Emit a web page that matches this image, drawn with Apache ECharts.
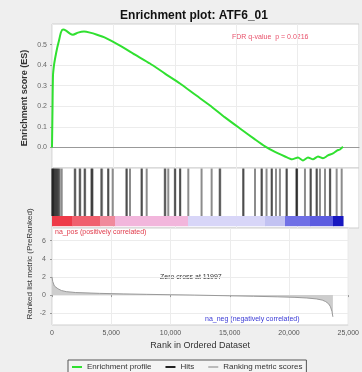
<!DOCTYPE html>
<html><head><meta charset="utf-8">
<script src="https://cdn.jsdelivr.net/npm/echarts@6/dist/echarts.min.js"></script>
<style>html,body{margin:0;padding:0;background:#fff}#c{width:362px;height:372px}</style>
</head><body><div id="c"></div>
<script>
// ---------- data ----------
const chartTitle = 'Enrichment plot: ATF6_01';
const statText = 'FDR q-value  p = 0.0216';
const zeroCrossRank = 11997;
const posLabel = 'na_pos (positively correlated)';
const negLabel = 'na_neg (negatively correlated)';
const xAxisTitle = 'Rank in Ordered Dataset';
const esAxisTitle = 'Enrichment score (ES)';
const metricAxisTitle = 'Ranked list metric (PreRanked)';
const legendNames = ['Enrichment profile', 'Hits', 'Ranking metric scores'];
const xTickValues = [0, 5000, 10000, 15000, 20000, 25000];
const esTickValues = [0, 0.1, 0.2, 0.3, 0.4, 0.5];
const metricTickValues = [-2, 0, 2, 4, 6];

const esRanks = [0, 40, 81, 163, 244, 407, 570, 733, 896, 1140, 1466, 1710, 2117, 2606, 3094, 3664,
  4316, 5537, 6758, 7980, 9201, 10423, 11645, 12866, 14087, 15309, 16530, 17344, 18158, 18973, 19543,
  20031, 20438, 20845, 21252, 21660, 22067, 22474, 22881, 23207, 23451, 23696];
const esValues = [0, 0.18, 0.35, 0.40, 0.43, 0.48, 0.52, 0.56, 0.573, 0.568, 0.553, 0.548, 0.558, 0.563, 0.558, 0.548,
  0.534, 0.495, 0.451, 0.408, 0.359, 0.311, 0.257, 0.204, 0.146, 0.092, 0.039, 0.005, -0.022, -0.044, -0.058,
  -0.049, -0.063, -0.049, -0.058, -0.044, -0.053, -0.039, -0.029, -0.015, -0.010, 0.003];

const hitRanks = [15, 45, 90, 140, 200, 260, 330, 400, 470, 540, 620, 790,
  1850, 1900, 2250, 2300, 2650, 2700, 3200, 3260, 3300, 4000, 4080, 4560, 4600, 4940,
  6050, 6100, 6350, 7280, 7330, 7710, 9180, 9230, 9470, 10000, 10040, 10420, 10450, 11100,
  12180, 13000, 13650, 13700, 15560, 15600, 16530, 17050, 17100, 17470, 17880, 17910, 18240,
  18560, 19090, 19130, 19900, 19930, 19960, 20600, 21050, 21080, 21540, 21570, 21820, 22230,
  22630, 22660, 23180, 23590];

const bandStarts = [0, 1629, 3909, 5130, 11075, 17345, 18973, 21009, 22881];
const bandEnds = [1629, 3909, 5130, 11075, 17345, 18973, 21009, 22881, 23700];

const metricRanks = [0, 60, 200, 500, 800, 1200, 2000, 4000, 6000, 8000, 10000, 11997, 13500, 15000,
  17000, 19000, 20500, 21500, 22300, 22800, 23100, 23350, 23500, 23620, 23700];
const metricValues = [2.0, 1.5, 1.0, 0.7, 0.5, 0.38, 0.28, 0.19, 0.13, 0.08, 0.04, 0, -0.04, -0.08,
  -0.13, -0.19, -0.25, -0.32, -0.42, -0.55, -0.72, -0.98, -1.3, -1.8, -2.4];

// ---------- styles ----------
const bandColors = ['#ee3a48', '#f0606e', '#f08a9c', '#f2b6dc', '#d8d6f8', '#c2c2f2', '#7070e6', '#5c5ce0', '#1818c0'];
const FONT = '"Liberation Sans", Arial, sans-serif';
const green = '#30e030';

const chart = echarts.init(document.getElementById('c'), null, {renderer: 'canvas'});
const fmtNum = v => Math.round(v).toLocaleString('en-US');
const split = {show: true, lineStyle: {color: '#ececec', width: 1}};
const gridBase = {show: true, backgroundColor: '#fff', borderColor: '#cfcfcf', borderWidth: 1, left: 52, right: 3};
const xBase = (i) => ({
  type: 'value', gridIndex: i, min: 0, max: 25000, interval: 5000,
  axisLine: {show: false}, axisTick: {show: false}, axisLabel: {show: false}, splitLine: split
});

const option = {
  backgroundColor: '#efefef',
  textStyle: {fontFamily: FONT},
  animation: false,
  title: {text: chartTitle, left: 189, top: 5, textAlign: 'center',
    textStyle: {fontSize: 12, fontWeight: 'bold', color: '#111', fontFamily: FONT}},
  legend: {
    left: 68, top: 360, itemWidth: 10, itemHeight: 2, itemGap: 14,
    padding: [3, 4, 3, 4], borderColor: '#555', borderWidth: 1, backgroundColor: '#f4f4f4',
    textStyle: {fontSize: 8, color: '#333', fontFamily: FONT},
    data: [
      {name: legendNames[0], icon: 'rect', itemStyle: {color: green}},
      {name: legendNames[1], icon: 'rect', itemStyle: {color: '#222'}},
      {name: legendNames[2], icon: 'rect', itemStyle: {color: '#bbb'}}
    ]
  },
  grid: [
    Object.assign({top: 24, height: 144}, gridBase),
    Object.assign({top: 168, height: 60}, gridBase),
    Object.assign({top: 228, height: 97}, gridBase)
  ],
  xAxis: [
    Object.assign(xBase(0), {axisLine: {show: true, onZero: true, lineStyle: {color: '#999', width: 1}}}),
    xBase(1),
    Object.assign(xBase(2), {
      axisLabel: {show: true, fontSize: 7, color: '#555', margin: 5, formatter: fmtNum, customValues: xTickValues},
      axisTick: {show: true, length: 2, lineStyle: {color: '#999'}},
      name: xAxisTitle, nameLocation: 'middle', nameGap: 16,
      nameTextStyle: {fontSize: 9, color: '#333', fontFamily: FONT}
    })
  ],
  yAxis: [
    {type: 'value', gridIndex: 0, min: -0.1, max: 0.6,
      axisLine: {show: false}, axisTick: {show: true, length: 2, customValues: esTickValues, lineStyle: {color: '#999'}},
      axisLabel: {fontSize: 7, color: '#666', margin: 5, customValues: esTickValues, formatter: v => v.toFixed(1)},
      splitLine: split},
    {type: 'value', gridIndex: 1, min: 0, max: 1, show: false},
    {type: 'value', gridIndex: 2, min: -3.3, max: 7.4,
      axisLine: {show: false}, axisTick: {show: true, length: 2, customValues: metricTickValues, lineStyle: {color: '#999'}},
      axisLabel: {fontSize: 7, color: '#666', margin: 6, customValues: metricTickValues},
      splitLine: split}
  ],
  series: [
    {name: legendNames[0], type: 'line', xAxisIndex: 0, yAxisIndex: 0, showSymbol: false, smooth: 0.2,
      lineStyle: {color: green, width: 2}, itemStyle: {color: green},
      data: esRanks.map((r, i) => [r, esValues[i]]), z: 5},
    {name: legendNames[1], type: 'custom', xAxisIndex: 1, yAxisIndex: 1,
      itemStyle: {color: '#222'},
      renderItem: function (params, api) {
        const x = api.value(0);
        const top = api.coord([x, 0.99]);
        const bot = api.coord([x, 0.2]);
        return {type: 'rect', shape: {x: top[0] - 1, y: top[1], width: 2, height: bot[1] - top[1]},
          style: {fill: 'rgba(0,0,0,0.45)'}};
      },
      encode: {x: 0}, data: hitRanks.map(r => [r])},
    {name: 'colorBar', type: 'custom', xAxisIndex: 1, yAxisIndex: 1,
      renderItem: function (params, api) {
        const a = api.coord([api.value(0), 0.2]);
        const b = api.coord([api.value(1), 0.03]);
        return {type: 'rect', shape: {x: a[0], y: a[1], width: b[0] - a[0] + 0.5, height: b[1] - a[1]},
          style: {fill: bandColors[params.dataIndex]}};
      },
      encode: {x: [0, 1]}, data: bandStarts.map((s, i) => [s, bandEnds[i]])},
    {name: legendNames[2], type: 'line', xAxisIndex: 2, yAxisIndex: 2, showSymbol: false,
      lineStyle: {color: '#9a9a9a', width: 1}, itemStyle: {color: '#bbb'},
      areaStyle: {color: '#cdcdcd', opacity: 1},
      data: metricRanks.map((r, i) => [r, metricValues[i]])}
  ],
  graphic: [
    {type: 'text', left: 232, top: 34, style: {text: statText, fontSize: 7, fill: '#e8506a', font: '7px ' + FONT}},
    {type: 'text', left: 160, top: 274, style: {text: 'Zero cross at ' + zeroCrossRank, fill: '#333', font: '7px ' + FONT}},
    {type: 'text', left: 55, top: 229, style: {text: posLabel, fill: '#e03a4a', font: '7px ' + FONT}},
    {type: 'text', left: 205, top: 316, style: {text: negLabel, fill: '#3a3ad6', font: '7px ' + FONT}},
    {type: 'text', x: 25, y: 98, rotation: Math.PI / 2,
      style: {text: esAxisTitle, fill: '#333', font: 'bold 9px ' + FONT, align: 'center', verticalAlign: 'middle'}},
    {type: 'text', x: 30, y: 264, rotation: Math.PI / 2,
      style: {text: metricAxisTitle, fill: '#333', font: '8px ' + FONT, align: 'center', verticalAlign: 'middle'}}
  ]
};
chart.setOption(option);
</script>
</body></html>
